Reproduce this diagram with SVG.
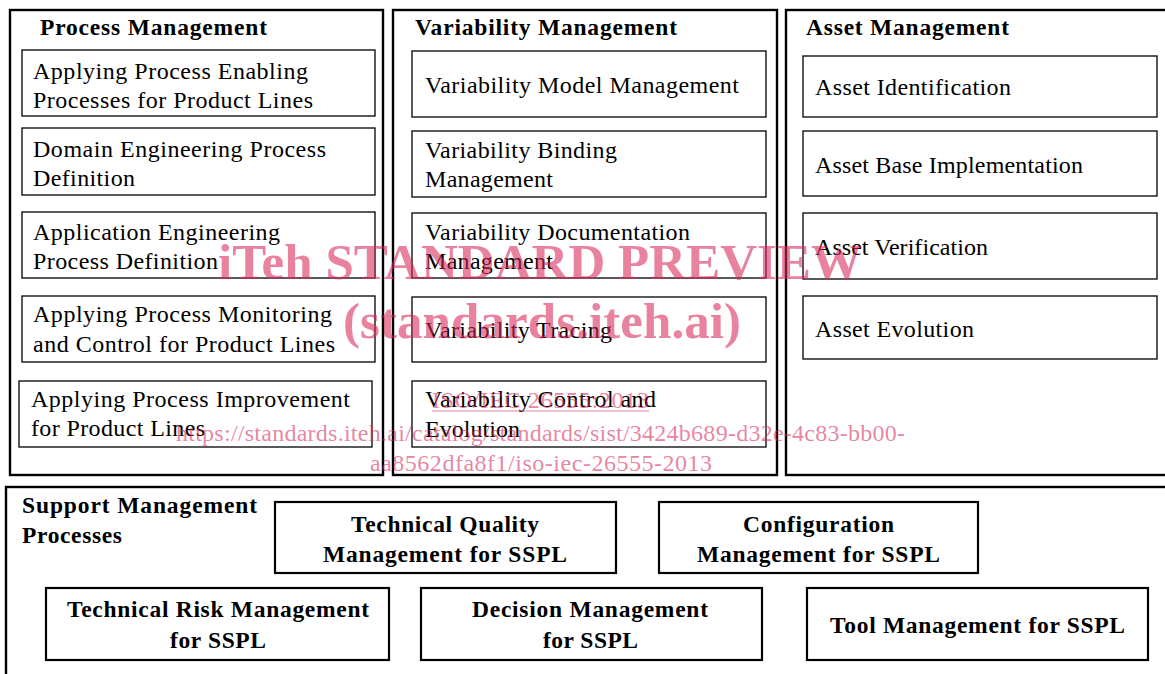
<svg xmlns="http://www.w3.org/2000/svg" width="1165" height="674" viewBox="0 0 1165 674">
  <style>
    .panel { fill: none; stroke: #000; stroke-width: 2.4; }
    .box { fill: #fff; stroke: #000; stroke-width: 1.3; }
    .sbox { fill: #fff; stroke: #000; stroke-width: 2.2; }
    .t { font-family: "Liberation Serif", "Times New Roman", serif; font-size: 24px; fill: #000; }
    .b { font-weight: bold; font-size: 23.5px; }
    .wm { font-family: "Liberation Serif", "Times New Roman", serif; fill: #d7285a; fill-opacity: 0.58; }
  </style>
  <rect width="1165" height="674" fill="#fff"/>

  <!-- Process Management -->
  <g id="process-management">
    <rect class="panel" x="10" y="10" width="373" height="465"/>
    <text class="t b" x="40" y="35" textLength="227">Process Management</text>
    <g id="pm-enabling">
      <rect class="box" x="22" y="50" width="353" height="66"/>
      <text class="t" x="33" y="79" textLength="275">Applying Process Enabling</text>
      <text class="t" x="33" y="108" textLength="280">Processes for Product Lines</text>
    </g>
    <g id="pm-domain">
      <rect class="box" x="22" y="128" width="353" height="67"/>
      <text class="t" x="33" y="157" textLength="293">Domain Engineering Process</text>
      <text class="t" x="33" y="186" textLength="102">Definition</text>
    </g>
    <g id="pm-application">
      <rect class="box" x="22" y="212" width="353" height="66"/>
      <text class="t" x="33" y="240" textLength="247">Application Engineering</text>
      <text class="t" x="33" y="269" textLength="185">Process Definition</text>
    </g>
    <g id="pm-monitoring">
      <rect class="box" x="22" y="296" width="353" height="66"/>
      <text class="t" x="33" y="322" textLength="299">Applying Process Monitoring</text>
      <text class="t" x="33" y="352" textLength="302">and Control for Product Lines</text>
    </g>
    <g id="pm-improvement">
      <rect class="box" x="19" y="381" width="353" height="66"/>
      <text class="t" x="31" y="407" textLength="319">Applying Process Improvement</text>
      <text class="t" x="31" y="436" textLength="174">for Product Lines</text>
    </g>
  </g>

  <!-- Variability Management -->
  <g id="variability-management">
    <rect class="panel" x="393" y="10" width="384" height="465"/>
    <text class="t b" x="415" y="35" textLength="262">Variability Management</text>
    <g id="vm-model">
      <rect class="box" x="412" y="51" width="354" height="66"/>
      <text class="t" x="425" y="93" textLength="314">Variability Model Management</text>
    </g>
    <g id="vm-binding">
      <rect class="box" x="412" y="131" width="354" height="66"/>
      <text class="t" x="425" y="158" textLength="192">Variability Binding</text>
      <text class="t" x="425" y="187" textLength="128">Management</text>
    </g>
    <g id="vm-documentation">
      <rect class="box" x="412" y="213" width="354" height="65"/>
      <text class="t" x="425" y="240" textLength="265">Variability Documentation</text>
      <text class="t" x="425" y="269" textLength="128">Management</text>
    </g>
    <g id="vm-tracing">
      <rect class="box" x="412" y="297" width="354" height="65"/>
      <text class="t" x="425" y="338" textLength="187">Variability Tracing</text>
    </g>
    <g id="vm-control">
      <rect class="box" x="412" y="381" width="354" height="66"/>
      <text class="t" x="425" y="407" textLength="231">Variability Control and</text>
      <text class="t" x="425" y="437" textLength="95">Evolution</text>
    </g>
  </g>

  <!-- Asset Management -->
  <g id="asset-management">
    <rect class="panel" x="786" y="10" width="392" height="465"/>
    <text class="t b" x="806" y="35" textLength="203">Asset Management</text>
    <g id="am-identification">
      <rect class="box" x="803" y="56" width="354" height="61"/>
      <text class="t" x="815" y="95" textLength="196">Asset Identification</text>
    </g>
    <g id="am-base">
      <rect class="box" x="803" y="131" width="354" height="65"/>
      <text class="t" x="815" y="173" textLength="268">Asset Base Implementation</text>
    </g>
    <g id="am-verification">
      <rect class="box" x="803" y="213" width="354" height="66"/>
      <text class="t" x="815" y="255" textLength="173">Asset Verification</text>
    </g>
    <g id="am-evolution">
      <rect class="box" x="803" y="296" width="354" height="63"/>
      <text class="t" x="815" y="337" textLength="159">Asset Evolution</text>
    </g>
  </g>

  <!-- Support Management Processes -->
  <g id="support-management">
    <rect class="panel" x="6" y="487" width="1172" height="200"/>
    <text class="t b" x="22" y="513" textLength="235">Support Management</text>
    <text class="t b" x="22" y="543" textLength="100">Processes</text>
    <g id="sm-quality">
      <rect class="sbox" x="275" y="502" width="341" height="71"/>
      <text class="t b" x="351" y="532" textLength="188">Technical Quality</text>
      <text class="t b" x="323" y="562" textLength="244">Management for SSPL</text>
    </g>
    <g id="sm-configuration">
      <rect class="sbox" x="659" y="502" width="319" height="71"/>
      <text class="t b" x="743" y="532" textLength="151">Configuration</text>
      <text class="t b" x="697" y="562" textLength="243">Management for SSPL</text>
    </g>
    <g id="sm-risk">
      <rect class="sbox" x="46" y="588" width="343" height="72"/>
      <text class="t b" x="67" y="617" textLength="302">Technical Risk Management</text>
      <text class="t b" x="170" y="648" textLength="96">for SSPL</text>
    </g>
    <g id="sm-decision">
      <rect class="sbox" x="421" y="588" width="341" height="72"/>
      <text class="t b" x="472" y="617" textLength="236">Decision Management</text>
      <text class="t b" x="543" y="648" textLength="95">for SSPL</text>
    </g>
    <g id="sm-tool">
      <rect class="sbox" x="807" y="588" width="341" height="72"/>
      <text class="t b" x="830" y="633" textLength="295">Tool Management for SSPL</text>
    </g>
  </g>

  <!-- Publisher overlay -->
  <g id="watermark">
    <text class="wm" x="218" y="279" font-size="51" font-weight="bold" textLength="644">iTeh STANDARD PREVIEW</text>
    <text class="wm" x="343" y="338" font-size="51" font-weight="bold" textLength="398">(standards.iteh.ai)</text>
    <text class="wm" x="432" y="408" font-size="24" textLength="217">ISO/IEC 26555:2013</text>
    <line x1="432" y1="411" x2="649" y2="411" stroke="#d7285a" stroke-opacity="0.58" stroke-width="1.2"/>
    <text class="wm" x="176" y="441" font-size="24" textLength="729">https://standards.iteh.ai/catalog/standards/sist/3424b689-d32e-4c83-bb00-</text>
    <text class="wm" x="370" y="471" font-size="24" textLength="342">aa8562dfa8f1/iso-iec-26555-2013</text>
  </g>
</svg>
